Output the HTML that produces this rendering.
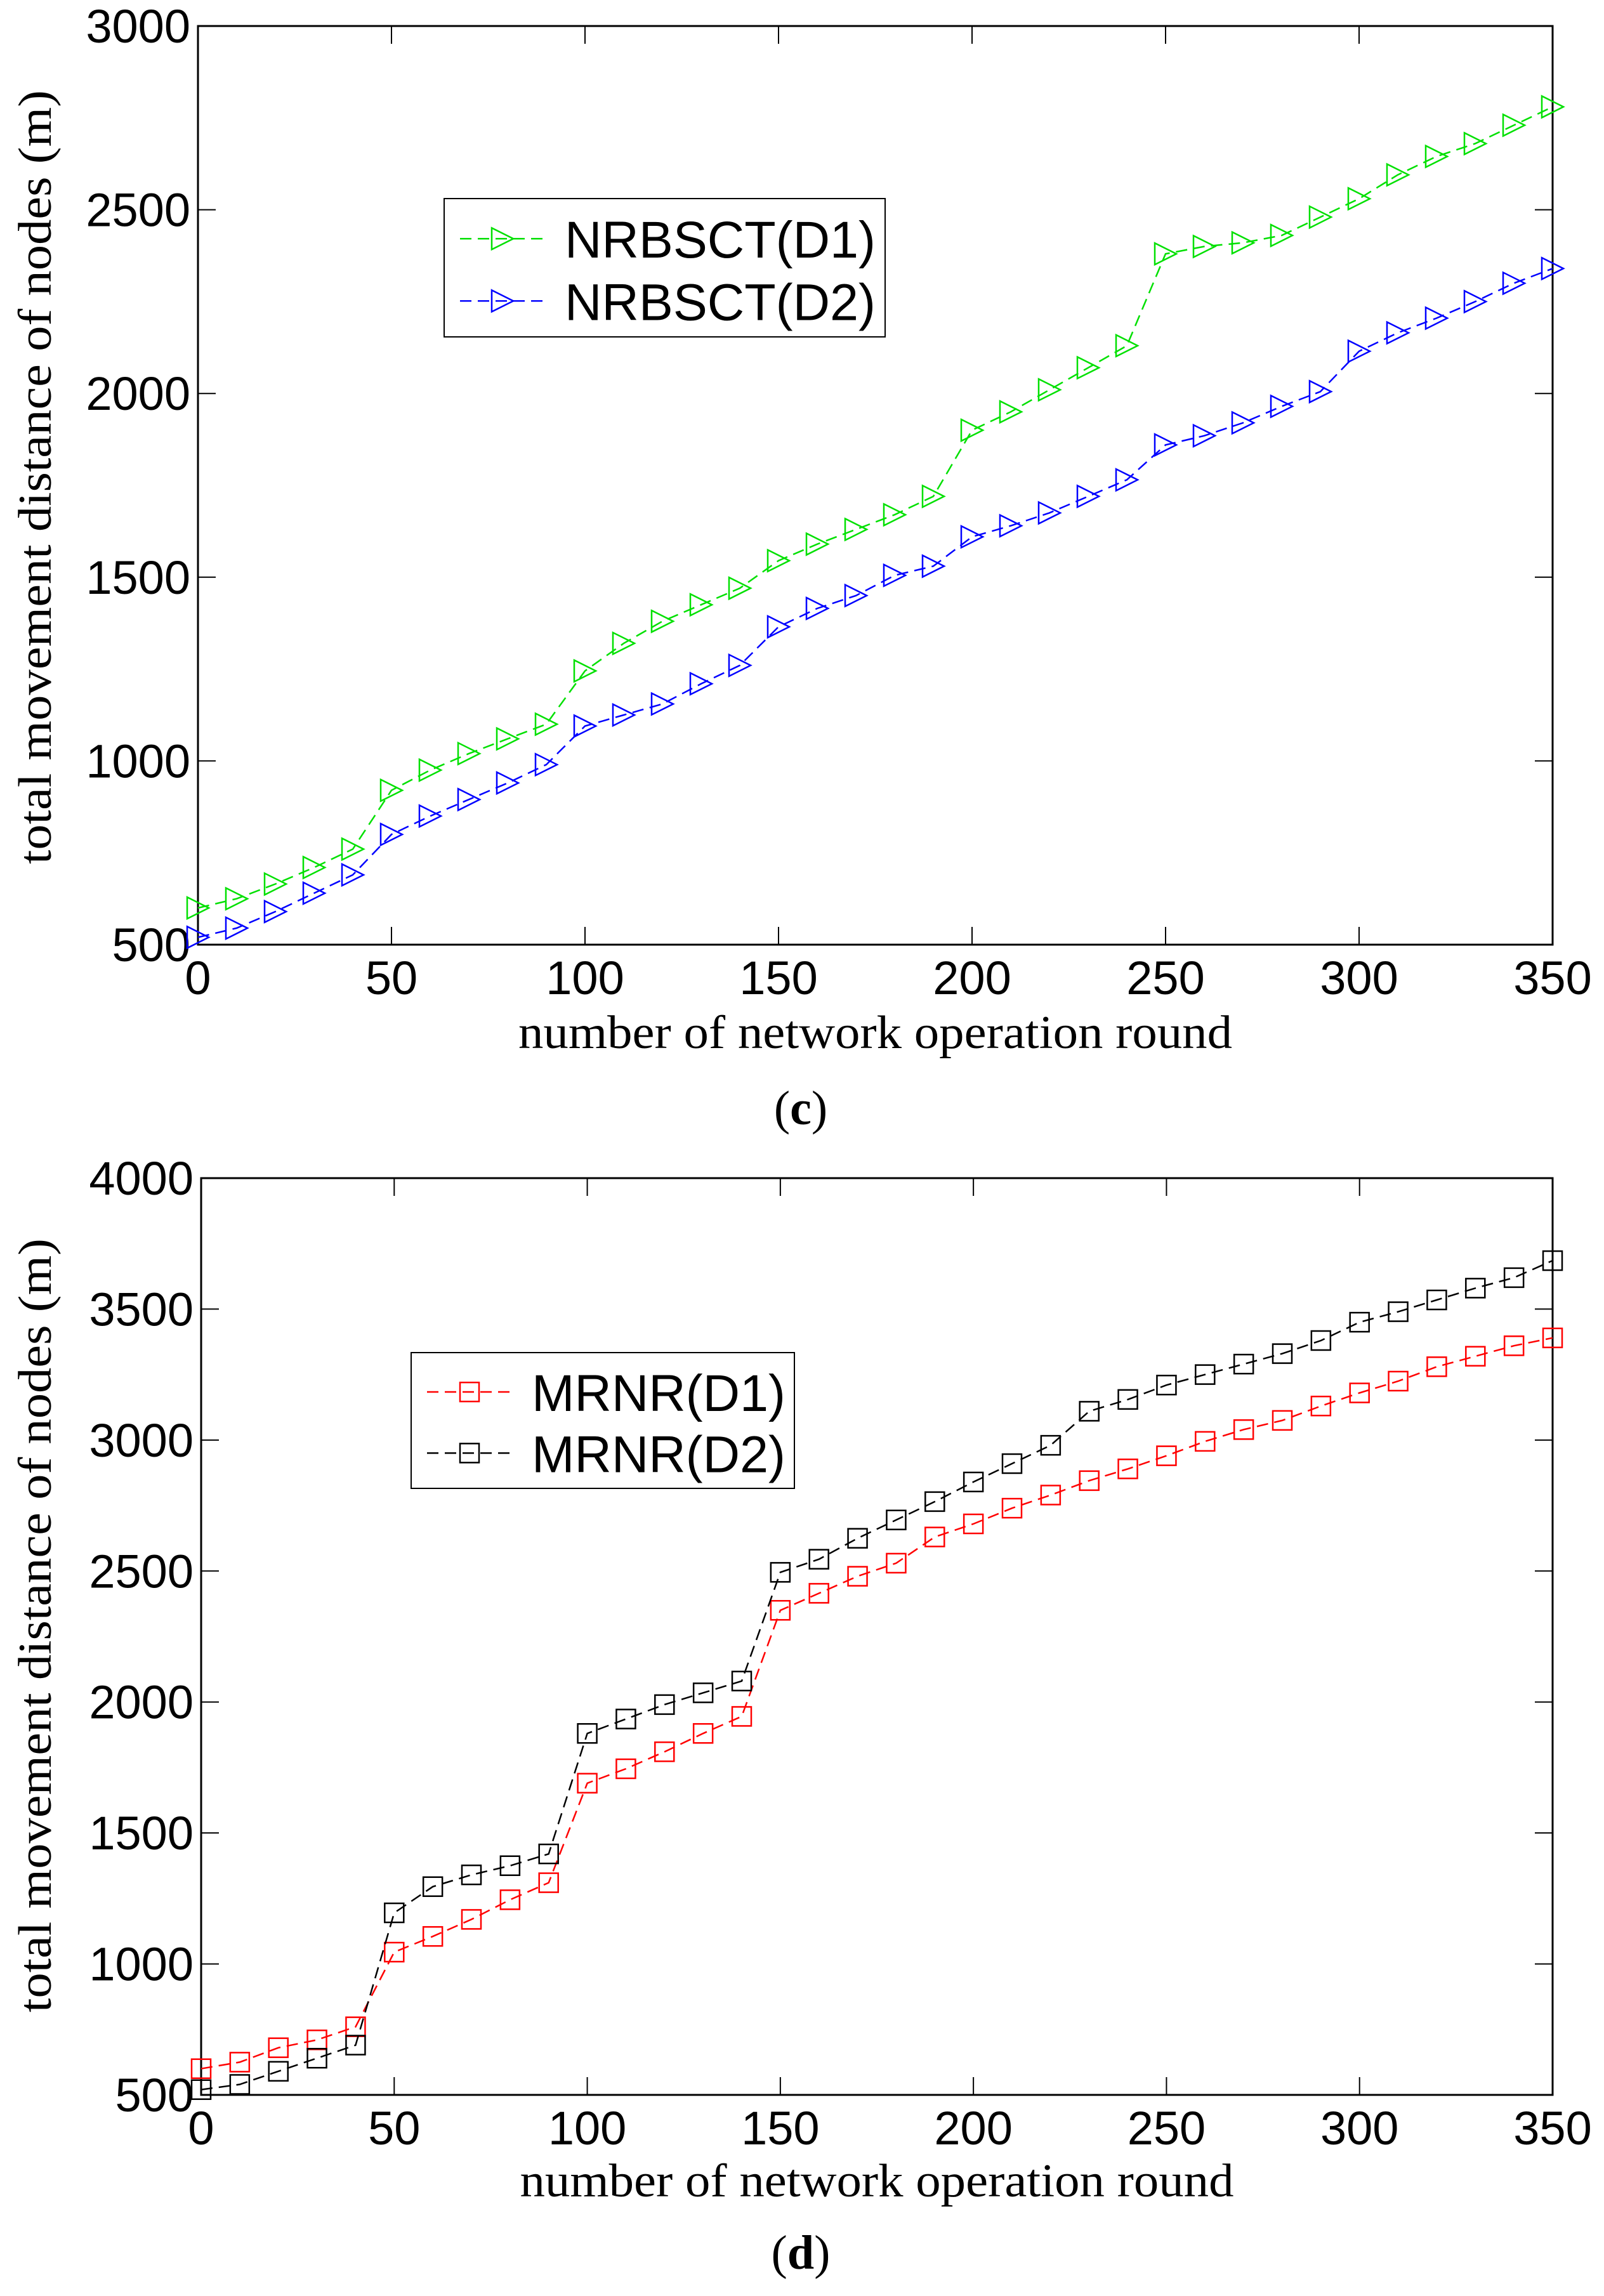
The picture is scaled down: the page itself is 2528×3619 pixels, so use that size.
<!DOCTYPE html>
<html><head><meta charset="utf-8"><style>
html,body{margin:0;padding:0;background:#fff;}
svg{display:block;}
text{font-family:"Liberation Sans",Arial,sans-serif;}
.serif{font-family:"Liberation Serif","Times New Roman",serif;}
</style></head><body>
<svg id="fig" width="2528" height="3619" viewBox="0 0 2528 3619" xmlns="http://www.w3.org/2000/svg"></svg>
<script>
const xCats = [0,10,20,30,40,50,60,70,80,90,100,110,120,130,140,150,160,170,180,190,200,210,220,230,240,250,260,270,280,290,300,310,320,330,340,350];
const nrbsctD1 = [600,625,665,710,760,920,975,1020,1060,1100,1245,1320,1380,1425,1470,1545,1590,1630,1670,1720,1900,1950,2010,2070,2130,2380,2400,2410,2430,2480,2530,2595,2645,2680,2730,2780];
const nrbsctD2 = [520,545,590,640,690,800,850,895,940,990,1095,1125,1155,1210,1260,1365,1415,1450,1505,1530,1610,1640,1675,1720,1765,1860,1885,1920,1965,2005,2115,2165,2205,2250,2300,2340];
const mrnrD1 = [600,625,680,710,760,1045,1105,1170,1245,1310,1690,1745,1810,1880,1945,2350,2415,2480,2530,2630,2680,2740,2790,2845,2890,2940,2995,3040,3075,3130,3180,3225,3280,3320,3360,3390];
const mrnrD2 = [520,540,590,640,690,1195,1295,1340,1375,1420,1880,1935,1990,2035,2080,2495,2545,2625,2695,2765,2840,2910,2980,3110,3155,3210,3250,3290,3330,3380,3450,3490,3535,3580,3620,3685];
const xTicks = [0,50,100,150,200,250,300,350];
const yTicksC = [500,1000,1500,2000,2500,3000];
const yTicksD = [500,1000,1500,2000,2500,3000,3500,4000];

const NS = "http://www.w3.org/2000/svg";
const svg = document.getElementById('fig');
function mk(tag, attrs, parent){
  const e = document.createElementNS(NS, tag);
  for (const k in attrs) e.setAttribute(k, attrs[k]);
  (parent||svg).appendChild(e);
  return e;
}

function drawPanel(cfg){
  const g = mk('g', {});
  
  
  const L=cfg.L, R=cfg.R, T=cfg.T, B=cfg.B;
  const xs = v => L + (v - 0) / 350 * (R - L);
  const ys = v => B - (v - cfg.ymin) / (cfg.ymax - cfg.ymin) * (B - T);
  const frame = mk('rect', {x:L, y:T, width:R-L, height:B-T, fill:'none', stroke:'#000', 'stroke-width':3}, g);
  
  
  // x ticks
  xTicks.forEach(v => {
    const x = xs(v);
    mk('line', {x1:x, y1:B, x2:x, y2:B-28, stroke:'#000', 'stroke-width':2}, g);
    mk('line', {x1:x, y1:T, x2:x, y2:T+28, stroke:'#000', 'stroke-width':2}, g);
    const t = mk('text', {x:x, y:B+78, 'font-size':74, 'text-anchor':'middle'}, g);
    t.textContent = v;
    
    
  });
  cfg.yTicks.forEach(v => {
    const y = ys(v);
    mk('line', {x1:L, y1:y, x2:L+28, y2:y, stroke:'#000', 'stroke-width':2}, g);
    mk('line', {x1:R, y1:y, x2:R-28, y2:y, stroke:'#000', 'stroke-width':2}, g);
    const t = mk('text', {x:L-12, y:y+26, 'font-size':74, 'text-anchor':'end'}, g);
    t.textContent = v;
    
    
  });
  // series
  cfg.series.forEach(s => {
    const sg = mk('g', {}, g);
    
    
    const pts = xCats.map((c,i) => xs(c).toFixed(1)+','+ys(s.data[i]).toFixed(1)).join(' ');
    mk('polyline', {points:pts, fill:'none', stroke:s.color, 'stroke-width':2.5, 'stroke-dasharray':'18,10'}, sg);
    xCats.forEach((c,i) => {
      const m = marker(s.marker, xs(c), ys(s.data[i]), s.color, sg);
      
      
    });
  });
  // legend
  const lg = mk('g', {}, g);
  
  
  const Lb = cfg.legend;
  mk('rect', {x:Lb.x, y:Lb.y, width:Lb.w, height:Lb.h, fill:'#fff', stroke:'#000', 'stroke-width':2}, lg);
  cfg.series.forEach((s,i) => {
    const cy = Lb.y + Lb.h*(i===0?0.29:0.74);
    const eg = mk('g', {}, lg);
    
    
    mk('line', {x1:Lb.x+25, y1:cy, x2:Lb.x+160, y2:cy, stroke:s.color, 'stroke-width':2.5, 'stroke-dasharray':'18,10'}, eg);
    marker(s.marker, Lb.x+92, cy, s.color, eg);
    const t = mk('text', {x:Lb.x+Lb.tx, y:cy+30, 'font-size':82, textLength:Lb.tl, lengthAdjust:'spacingAndGlyphs'}, eg);
    t.textContent = s.label;
  });
  // axis titles
  const xt = mk('text', {class:'serif', x:(L+R)/2, y:cfg.xTitleY, 'font-size':74, 'text-anchor':'middle', textLength:1125, lengthAdjust:'spacingAndGlyphs'}, g);
  xt.textContent = 'number of network operation round';
  
  
  const yt = mk('text', {class:'serif', x:0, y:0, 'font-size':74, 'text-anchor':'middle', textLength:1220, lengthAdjust:'spacingAndGlyphs', transform:'translate('+cfg.yTitleX+','+cfg.yTitleC+') rotate(-90)'}, g);
  yt.textContent = 'total movement distance of nodes (m)';
  
  
  const cap = mk('text', {class:'serif', x:1262, y:cfg.capY, 'font-size':76, 'text-anchor':'middle'}, g);
  cap.innerHTML = '(<tspan font-weight="bold">'+cfg.cap+'</tspan>)';
  
  
}

function marker(type, x, y, color, parent){
  if (type === 'tri') {
    const s = 17;
    return mk('polygon', {points:(x-s)+','+(y-s)+' '+(x+s)+','+y+' '+(x-s)+','+(y+s), fill:'none', stroke:color, 'stroke-width':2.5}, parent);
  }
  const s = 15;
  return mk('rect', {x:x-s, y:y-s, width:2*s, height:2*s, fill:'none', stroke:color, 'stroke-width':2.5}, parent);
}

drawPanel({
  name:'chart-c', L:312, R:2447, T:41, B:1489, ymin:500, ymax:3000, yTicks:yTicksC,
  series:[
    {name:'series-nrbsct-d1', label:'NRBSCT(D1)', data:nrbsctD1, color:'#00e000', marker:'tri'},
    {name:'series-nrbsct-d2', label:'NRBSCT(D2)', data:nrbsctD2, color:'#0000ff', marker:'tri'}
  ],
  legend:{x:700, y:313, w:695, h:218, tx:190, tl:490},
  xTitleY:1652, yTitleX:80, yTitleC:752, capY:1772, cap:'c'
});
drawPanel({
  name:'chart-d', L:317, R:2447, T:1857, B:3302, ymin:500, ymax:4000, yTicks:yTicksD,
  series:[
    {name:'series-mrnr-d1', label:'MRNR(D1)', data:mrnrD1, color:'#ff0000', marker:'sq'},
    {name:'series-mrnr-d2', label:'MRNR(D2)', data:mrnrD2, color:'#000000', marker:'sq'}
  ],
  legend:{x:648, y:2132, w:604, h:214, tx:190, tl:400},
  xTitleY:3462, yTitleX:80, yTitleC:2562, capY:3576, cap:'d'
});
</script>
</body></html>
